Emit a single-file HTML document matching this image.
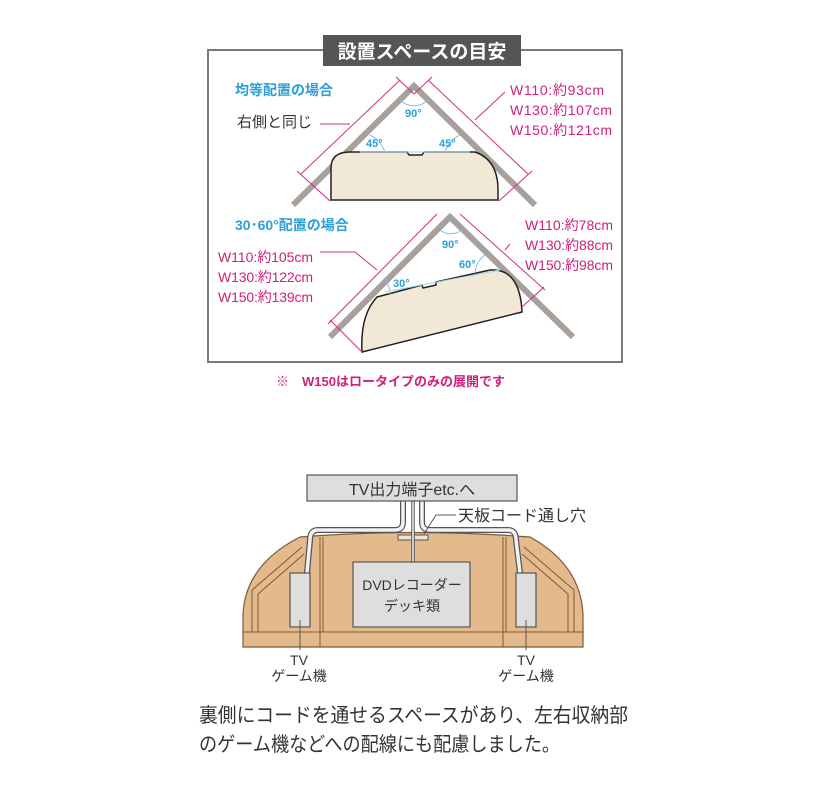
<!DOCTYPE html>
<html><head><meta charset="utf-8"><style>
html,body{margin:0;padding:0;background:#fff;width:827px;height:805px;overflow:hidden}
svg{display:block}
text{font-family:"Liberation Sans","Noto Sans CJK JP",sans-serif}
</style></head><body>
<svg width="827" height="805" viewBox="0 0 827 805" xmlns="http://www.w3.org/2000/svg">
<rect x="208" y="50" width="414" height="312" fill="none" stroke="#7a7a7a" stroke-width="2"/>
<rect x="323" y="35" width="198" height="31" fill="#555"/>
<text x="422" y="58" font-size="19" font-weight="bold" fill="#fff" text-anchor="middle">設置スペースの目安</text>

<text x="235" y="95" font-size="14" font-weight="bold" fill="#2a9fd8">均等配置の場合</text>
<text x="237" y="127" font-size="15" fill="#333">右側と同じ</text>
<line x1="320" y1="124" x2="350" y2="124" stroke="#d0307a" stroke-width="1"/>
<polyline points="293,205 414,86 535,205" fill="none" stroke="#a8a09a" stroke-width="6"/>
<path d="M331,200 L331,168 Q331,152 350,152 L407,152 L409,155 L422,155 L424,152 L475,152 Q498,160 498,190 L498,200 Z" fill="#f1e8d6" stroke="#222" stroke-width="1.5"/>
<path d="M385,152 A30,30 0 0 0 370,135" fill="none" stroke="#7bc3e8" stroke-width="1"/>
<path d="M445,152 A30,30 0 0 1 460,135" fill="none" stroke="#7bc3e8" stroke-width="1"/>
<path d="M400,100 A20,20 0 0 0 428,100" fill="none" stroke="#7bc3e8" stroke-width="1"/>
<line x1="360" y1="152" x2="470" y2="152" stroke="#9fd3ee" stroke-width="1"/>
<text x="405" y="117" font-size="11" font-weight="bold" fill="#2a9fd8">90°</text>
<text x="366" y="147" font-size="11" font-weight="bold" fill="#2a9fd8">45°</text>
<text x="439" y="147" font-size="11" font-weight="bold" fill="#2a9fd8">45°</text>
<line x1="301" y1="174" x2="400" y2="80" stroke="#d0307a" stroke-width="1"/>
<line x1="297" y1="171" x2="330" y2="201" stroke="#d0307a" stroke-width="1"/>
<line x1="396" y1="77" x2="414" y2="94" stroke="#d0307a" stroke-width="1"/>
<line x1="428" y1="80" x2="528" y2="174" stroke="#d0307a" stroke-width="1"/>
<line x1="532" y1="171" x2="499" y2="201" stroke="#d0307a" stroke-width="1"/>
<line x1="432" y1="77" x2="414" y2="94" stroke="#d0307a" stroke-width="1"/>
<line x1="475" y1="120" x2="505" y2="92" stroke="#d0307a" stroke-width="1"/>
<g font-size="14" fill="#d0207a"><text x="510" y="95" textLength="94">W110:約93cm</text><text x="510" y="115" textLength="102">W130:約107cm</text><text x="510" y="135" textLength="102">W150:約121cm</text></g>

<text x="235" y="230" font-size="14" font-weight="bold" fill="#2a9fd8">30･60°配置の場合</text>
<polyline points="330,337 450,217 573,337" fill="none" stroke="#a8a09a" stroke-width="6"/>
<path d="M377,297 L422,285 L423,288 L436,285 L436,282 L490,270 Q520,268 522,312 L362,352 Q360,315 377,297 Z" fill="#f1e8d6" stroke="#222" stroke-width="1.5"/>
<path d="M390,294 A25,25 0 0 0 384,278" fill="none" stroke="#7bc3e8" stroke-width="1"/>
<path d="M475,273 A25,25 0 0 1 485,255" fill="none" stroke="#7bc3e8" stroke-width="1"/>
<path d="M440,230 A18,18 0 0 0 462,230" fill="none" stroke="#7bc3e8" stroke-width="1"/>
<line x1="385" y1="292" x2="500" y2="270" stroke="#9fd3ee" stroke-width="1"/>
<text x="442" y="248" font-size="11" font-weight="bold" fill="#2a9fd8">90°</text>
<text x="393" y="287" font-size="11" font-weight="bold" fill="#2a9fd8">30°</text>
<text x="459" y="268" font-size="11" font-weight="bold" fill="#2a9fd8">60°</text>
<line x1="328" y1="324" x2="437" y2="214" stroke="#d0307a" stroke-width="1"/>
<line x1="330" y1="320" x2="362" y2="352" stroke="#d0307a" stroke-width="1"/>
<line x1="460" y1="214" x2="545" y2="290" stroke="#d0307a" stroke-width="1"/>
<line x1="544" y1="287" x2="522" y2="307" stroke="#d0307a" stroke-width="1"/>
<polyline points="320,252 355,252 377,270" fill="none" stroke="#d0307a" stroke-width="1"/>
<line x1="505" y1="250" x2="510" y2="244" stroke="#d0307a" stroke-width="1"/>
<g font-size="14" fill="#d0207a"><text x="218" y="262" textLength="95">W110:約105cm</text><text x="218" y="282" textLength="95">W130:約122cm</text><text x="218" y="302" textLength="95">W150:約139cm</text>
<text x="525" y="230" textLength="88">W110:約78cm</text><text x="525" y="250" textLength="88">W130:約88cm</text><text x="525" y="270" textLength="88">W150:約98cm</text></g>
<text x="276" y="386" font-size="13" font-weight="bold" fill="#d0207a" xml:space="preserve">※　W150はロータイプのみの展開です</text>

<path d="M243,647 L243,615 Q245,565 300,537 Q413,528 530,537 Q581,565 583,615 L583,647 Z" fill="#e4ba8c" stroke="#7a5a3a" stroke-width="1.2"/>
<line x1="243" y1="632" x2="583" y2="632" stroke="#7a5a3a" stroke-width="1"/>
<line x1="320" y1="537" x2="320" y2="647" stroke="#7a5a3a" stroke-width="1"/>
<line x1="323" y1="537" x2="323" y2="632" stroke="#7a5a3a" stroke-width="1"/>
<line x1="503" y1="537" x2="503" y2="647" stroke="#7a5a3a" stroke-width="1"/>
<line x1="506" y1="537" x2="506" y2="632" stroke="#7a5a3a" stroke-width="1"/>
<path d="M252,632 L252,590 L302,547" fill="none" stroke="#7a5a3a" stroke-width="1"/>
<path d="M258,632 L258,594 L304,554" fill="none" stroke="#7a5a3a" stroke-width="1"/>
<path d="M574,632 L574,590 L524,547" fill="none" stroke="#7a5a3a" stroke-width="1"/>
<path d="M568,632 L568,594 L522,554" fill="none" stroke="#7a5a3a" stroke-width="1"/>
<rect x="398" y="535" width="30" height="5" fill="#f1e3cf" stroke="#555" stroke-width="1"/>
<path d="M403,500 L403,522 Q403,530 395,530 L318,530 Q310,530 310,540 L307,573" fill="none" stroke="#555" stroke-width="6"/>
<path d="M403,500 L403,522 Q403,530 395,530 L318,530 Q310,530 310,540 L307,573" fill="none" stroke="#f2f2f2" stroke-width="3.5"/>
<path d="M422,500 L422,522 Q422,530 430,530 L508,530 Q516,530 516,540 L520,573" fill="none" stroke="#555" stroke-width="6"/>
<path d="M422,500 L422,522 Q422,530 430,530 L508,530 Q516,530 516,540 L520,573" fill="none" stroke="#f2f2f2" stroke-width="3.5"/>
<line x1="413" y1="500" x2="413" y2="562" stroke="#555" stroke-width="3.5"/>
<line x1="413" y1="500" x2="413" y2="562" stroke="#f2f2f2" stroke-width="1.5"/>
<rect x="307" y="475" width="210" height="26" fill="#dedede" stroke="#555" stroke-width="1.2"/>
<text x="412" y="495" font-size="16" fill="#333" text-anchor="middle">TV出力端子etc.へ</text>
<polyline points="424,534 436,515 456,515" fill="none" stroke="#555" stroke-width="1"/>
<text x="458" y="521" font-size="16" fill="#333">天板コード通し穴</text>
<rect x="353" y="562" width="117" height="65" fill="#dedede" stroke="#555" stroke-width="1.2"/>
<text x="412" y="590" font-size="14" fill="#333" text-anchor="middle">DVDレコーダー</text>
<text x="412" y="611" font-size="14" fill="#333" text-anchor="middle">デッキ類</text>
<rect x="290" y="573" width="20" height="54" fill="#dedede" stroke="#555" stroke-width="1.2"/>
<rect x="516" y="573" width="20" height="54" fill="#dedede" stroke="#555" stroke-width="1.2"/>
<line x1="300" y1="620" x2="300" y2="650" stroke="#555" stroke-width="1"/>
<line x1="526" y1="620" x2="526" y2="650" stroke="#555" stroke-width="1"/>
<g font-size="14" fill="#333" text-anchor="middle"><text x="299" y="665">TV</text><text x="299" y="681">ゲーム機</text><text x="526" y="665">TV</text><text x="526" y="681">ゲーム機</text></g>
<g font-size="20" fill="#333"><text x="199" y="722" textLength="429" lengthAdjust="spacingAndGlyphs">裏側にコードを通せるスペースがあり、左右収納部</text><text x="199" y="751" textLength="361" lengthAdjust="spacingAndGlyphs">のゲーム機などへの配線にも配慮しました。</text></g>
</svg>
</body></html>
